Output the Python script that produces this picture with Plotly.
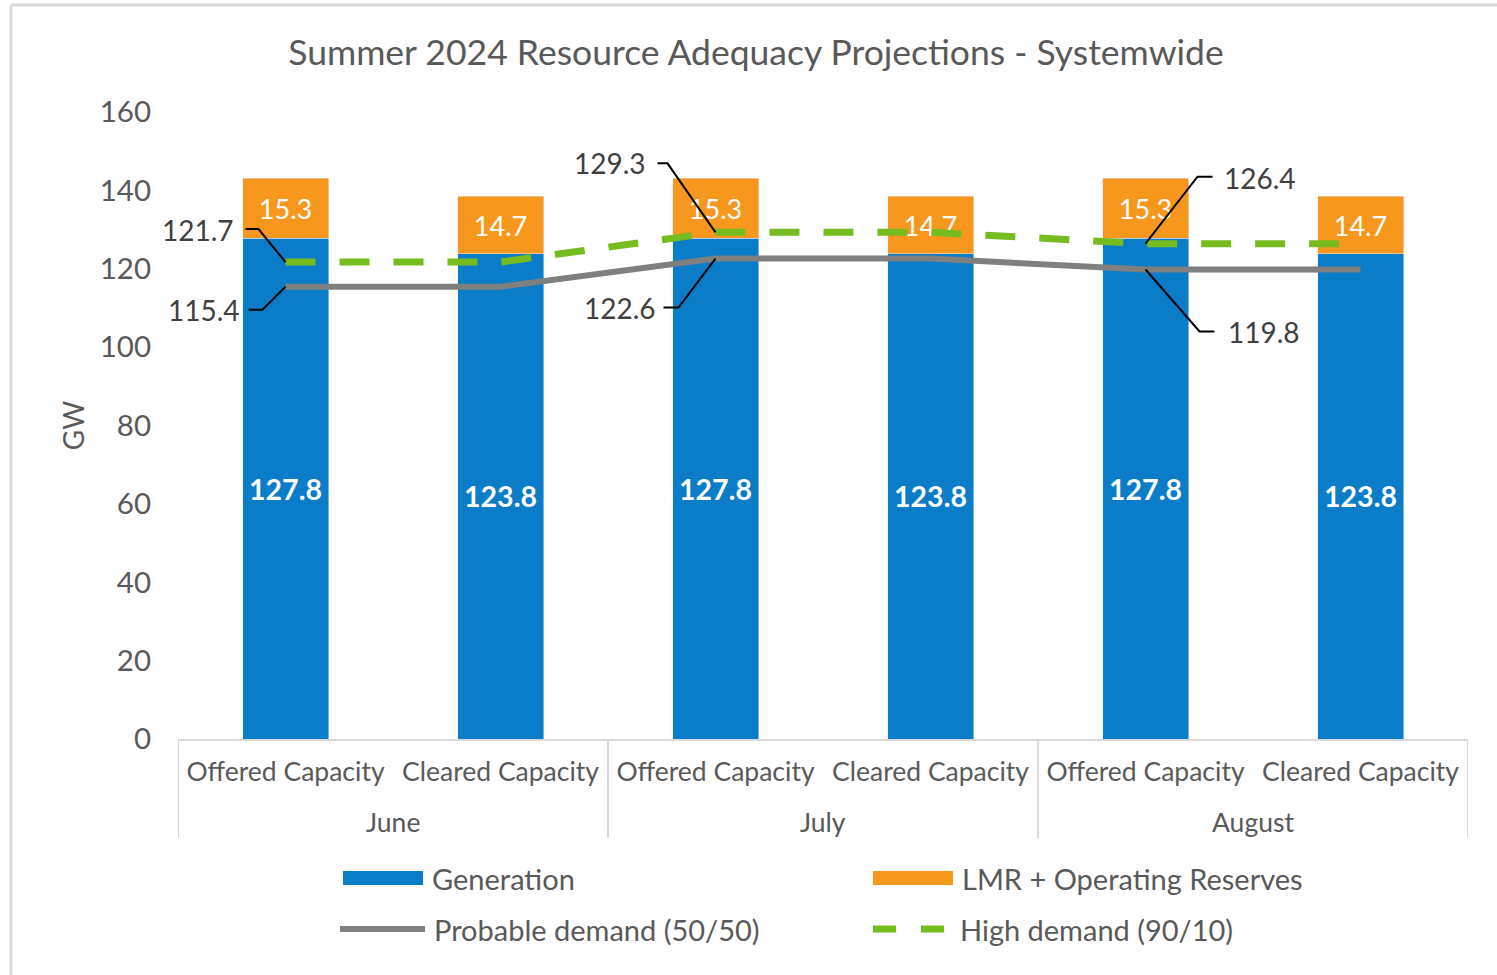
import plotly.graph_objects as go

# ---------------- data ----------------
months = ["June", "June", "July", "July", "August", "August"]
capacity_types = ["Offered Capacity", "Cleared Capacity"] * 3
generation = [127.8, 123.8, 127.8, 123.8, 127.8, 123.8]
lmr_reserves = [15.3, 14.7, 15.3, 14.7, 15.3, 14.7]
probable_demand = [115.4, 115.4, 122.6, 122.6, 119.8, 119.8]
high_demand = [121.7, 121.7, 129.3, 129.3, 126.4, 126.4]
y_ticks = [0, 20, 40, 60, 80, 100, 120, 140, 160]

# ---------------- style ----------------
FONT = "Lato"
BLUE = "#0A7CC8"
ORANGE = "#F7971D"
GRAY_LINE = "#7F7F7F"
GREEN = "#77BC1F"
TXT = "#595959"
AXIS = "#D9D9D9"

W, H = 1497, 975
ML, MR, MT, MB = 178, 29, 112, 236
PW = W - ML - MR
PH = H - MT - MB

positions = list(range(len(months)))


def px_x(px):
    return (px - ML) / PW


def px_y(py):
    return (H - MB - py) / PH


fig = go.Figure()
fig.add_trace(go.Bar(
    x=positions, y=generation, name="Generation", marker_color=BLUE,
    text=[f"{v:.1f}" for v in generation], textposition="inside",
    insidetextanchor="middle", constraintext="none",
    textfont=dict(family=FONT, size=28.5, color="white", weight="bold"),
    showlegend=False,
))
fig.add_trace(go.Bar(
    x=positions, y=lmr_reserves, name="LMR + Operating Reserves", marker_color=ORANGE,
    text=[f"{v:.1f}" for v in lmr_reserves], textposition="inside",
    insidetextanchor="middle", constraintext="none",
    textfont=dict(family=FONT, size=27, color="white"),
    showlegend=False,
))
fig.add_trace(go.Scatter(
    x=positions, y=probable_demand, name="Probable demand (50/50)", mode="lines",
    line=dict(color=GRAY_LINE, width=6), showlegend=False,
))
fig.add_trace(go.Scatter(
    x=positions, y=high_demand, name="High demand (90/10)", mode="lines",
    line=dict(color=GREEN, width=7, dash="30px,24px"), showlegend=False,
))

shapes = []
annotations = []

# ---------------- data labels for the demand lines with leader lines ----------------
label_specs = [
    (high_demand, 0, "M-40,33 L-27,33 L0,0", -50, 32, "right"),
    (probable_demand, 0, "M-37,-23 L-23,-23 L0,0", -44, -23, "right"),
    (high_demand, 2, "M-58,69 L-48,69 L0,0", -68, 69, "right"),
    (probable_demand, 2, "M-52,-49 L-37,-49 L0,0", -58, -49, "right"),
    (high_demand, 4, "M0,0 L52,67 L67,67", 76, 66, "left"),
    (probable_demand, 4, "M0,0 L54,-62 L69,-62", 80, -62, "left"),
]
for series, i, path, xs, ys, anc in label_specs:
    shapes.append(dict(
        type="path", xref="x", yref="y",
        xsizemode="pixel", ysizemode="pixel",
        xanchor=positions[i], yanchor=series[i], path=path,
        line=dict(color="black", width=2), layer="above",
    ))
    annotations.append(dict(
        xref="x", yref="y", x=positions[i], y=series[i], text=f"{series[i]:.1f}",
        showarrow=False, xanchor=anc, yanchor="middle", xshift=xs, yshift=ys,
        font=dict(family=FONT, size=28, color="#404040"),
    ))

# ---------------- grouped category axis (month row + dividers) ----------------
groups = []
for idx, m in enumerate(months):
    if not groups or groups[-1][0] != m:
        groups.append([m, idx, idx])
    else:
        groups[-1][2] = idx
div_y_bottom = px_y(838)
for gi, (m, a, b) in enumerate(groups):
    annotations.append(dict(
        xref="x", yref="paper", x=(positions[a] + positions[b]) / 2, y=px_y(822),
        text=m, showarrow=False, xanchor="center", yanchor="middle",
        font=dict(family=FONT, size=26.5, color=TXT),
    ))
    if gi == 0:
        shapes.append(dict(type="line", xref="x", yref="paper",
                           x0=positions[a] - 0.5, x1=positions[a] - 0.5,
                           y0=0, y1=div_y_bottom, line=dict(color=AXIS, width=2)))
    shapes.append(dict(type="line", xref="x", yref="paper",
                       x0=positions[b] + 0.5, x1=positions[b] + 0.5,
                       y0=0, y1=div_y_bottom, line=dict(color=AXIS, width=2)))

# ---------------- custom legend ----------------
legend_items = [
    ("rect", BLUE, "Generation", 343, 423, 878),
    ("rect", ORANGE, "LMR + Operating Reserves", 873, 953, 878),
    ("line", GRAY_LINE, "Probable demand (50/50)", 340, 425, 929),
    ("dash", GREEN, "High demand (90/10)", 873, 951, 929),
]
for kind, col, label, x0, x1, yc in legend_items:
    if kind == "rect":
        shapes.append(dict(type="rect", xref="paper", yref="paper",
                           x0=px_x(x0), x1=px_x(x1), y0=px_y(yc + 7), y1=px_y(yc - 7),
                           fillcolor=col, line=dict(width=0)))
    elif kind == "line":
        shapes.append(dict(type="line", xref="paper", yref="paper",
                           x0=px_x(x0), x1=px_x(x1), y0=px_y(yc), y1=px_y(yc),
                           line=dict(color=col, width=6)))
    else:
        shapes.append(dict(type="line", xref="paper", yref="paper",
                           x0=px_x(x0), x1=px_x(x1), y0=px_y(yc), y1=px_y(yc),
                           line=dict(color=col, width=7, dash="23px,25px")))
    annotations.append(dict(
        xref="paper", yref="paper", x=px_x(x1 + 7), y=px_y(yc), text=label,
        showarrow=False, xanchor="left", yanchor="middle",
        font=dict(family=FONT, size=29, color=TXT),
    ))

# outer frame (top and left edges visible)
shapes.append(dict(type="line", xref="paper", yref="paper",
                   x0=px_x(11), x1=px_x(W + 5), y0=px_y(5), y1=px_y(5),
                   line=dict(color=AXIS, width=3)))
shapes.append(dict(type="line", xref="paper", yref="paper",
                   x0=px_x(11), x1=px_x(11), y0=px_y(5), y1=px_y(H + 5),
                   line=dict(color=AXIS, width=3)))

fig.update_layout(
    width=W, height=H,
    margin=dict(l=ML, r=MR, t=MT, b=MB),
    paper_bgcolor="white", plot_bgcolor="white",
    barmode="stack", bargap=0.6,
    title=dict(text="Summer 2024 Resource Adequacy Projections - Systemwide",
               x=756 / W, xanchor="center", xref="container",
               y=1 - 53 / H, yanchor="middle", yref="container",
               font=dict(family=FONT, size=35.5, color=TXT)),
    font=dict(family=FONT, color=TXT),
    shapes=shapes,
    annotations=annotations,
    showlegend=False,
)
fig.update_xaxes(
    range=[positions[0] - 0.5, positions[-1] + 0.5],
    tickvals=positions, ticktext=capacity_types,
    showline=True, linecolor=AXIS, linewidth=2,
    showgrid=False, zeroline=False, ticks="", ticklabelstandoff=8,
    tickfont=dict(family=FONT, size=26.5, color=TXT),
)
fig.update_yaxes(
    range=[0, 160], tickvals=y_ticks, showgrid=False, zeroline=False,
    showline=False, ticks="", ticklabelstandoff=26,
    tickfont=dict(family=FONT, size=29.5, color=TXT),
    title=dict(text="GW", standoff=6, font=dict(family=FONT, size=28, color=TXT)),
)

fig.write_html(
    "out.html",
    config={"displayModeBar": False},
    post_script="document.body.style.margin='0';document.body.style.overflow='hidden';",
)
